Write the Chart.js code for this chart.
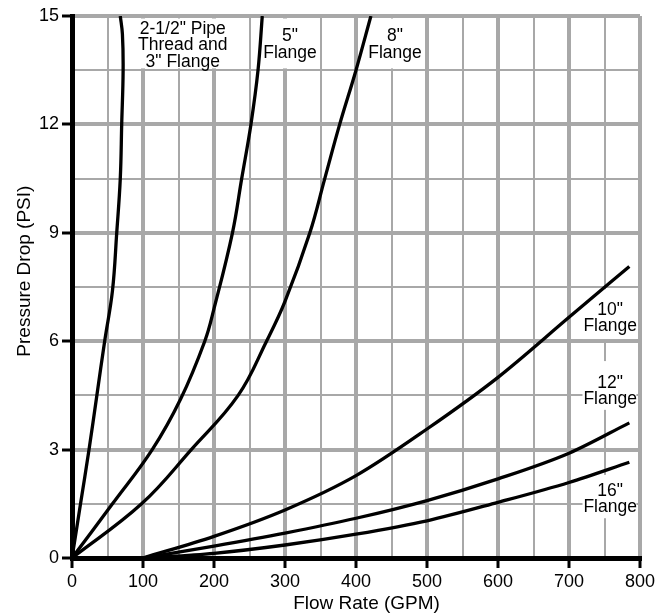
<!DOCTYPE html>
<html>
<head>
<meta charset="utf-8">
<script src="https://cdn.jsdelivr.net/npm/chart.js@4.4.1/dist/chart.umd.min.js"></script>
<style>
    html, body { margin: 0; padding: 0; background: #fff; }
    #wrap { width: 665px; height: 613px; }
</style>
</head>
<body>
<div id="wrap"><canvas id="flowChart"></canvas></div>
<script>
// Flow rate (GPM) vs pressure drop (PSI)
const pipeFlow = [0, 12, 24, 35, 46, 57, 63, 68, 70, 72, 71, 68];
const pipePsi = [0, 1.5, 3, 4.5, 6, 7.4, 9, 10.5, 12, 13.5, 14.5, 15];

const flange5Flow = [0, 57, 113, 153, 187, 200, 226, 239, 252, 262, 268];
const flange5Psi = [0, 1.5, 3, 4.4, 6, 6.9, 9, 10.5, 12, 13.5, 15];

const flange8Flow = [0, 98, 168, 234, 274, 300, 335, 356, 377, 400, 421];
const flange8Psi = [0, 1.5, 3, 4.5, 6, 7.1, 9, 10.5, 12, 13.5, 15];

// 10", 12" and 16" share the same flow points
const bigFlow = [100, 200, 300, 400, 500, 600, 700, 785];
const flange10Psi = [0, 0.6, 1.33, 2.28, 3.57, 5.0, 6.66, 8.07];
const flange12Psi = [0, 0.33, 0.69, 1.1, 1.59, 2.19, 2.9, 3.74];
const flange16Psi = [0, 0.13, 0.36, 0.66, 1.03, 1.54, 2.09, 2.65];

const xTicks = [0, 100, 200, 300, 400, 500, 600, 700, 800];
const yTicks = [0, 3, 6, 9, 12, 15];

// label text, centre of first line and white box [x0, x1, y0, y1] in data units
const curveLabels = [
    { lines: ['2-1/2" Pipe', 'Thread and', '3" Flange'], at: [156, 14.64], box: [80, 236, 13.55, 14.93] },
    { lines: ['5"', 'Flange'], at: [307, 14.43], box: [268, 345, 13.55, 14.93] },
    { lines: ['8"', 'Flange'], at: [455, 14.43], box: [410, 495, 13.55, 14.93] },
    { lines: ['10"', 'Flange'], at: [758, 6.86], box: [719, 795, 6.06, 7.44] },
    { lines: ['12"', 'Flange'], at: [758, 4.84], box: [719, 795, 4.1, 5.45] },
    { lines: ['16"', 'Flange'], at: [758, 1.85], box: [719, 795, 1.1, 2.3] }
];

const GRID = '#a8a8a8';
const FONT = '"Liberation Sans", Arial, Helvetica, sans-serif';

function toPoints(xs, ys) {
    return xs.map((v, i) => ({ x: v, y: ys[i] }));
}

function isMajor(v, list) {
    return list.some(t => Math.abs(t - v) < 1e-6);
}

// steep curves use a plain bezier, the flat ones a monotone spline
function curve(xs, ys, steep) {
    const ds = {
        data: toPoints(xs, ys),
        showLine: true,
        borderColor: '#000',
        borderWidth: 3.3,
        pointRadius: 0,
        fill: false
    };
    if (steep) ds.tension = 0.4;
    else ds.cubicInterpolationMode = 'monotone';
    return ds;
}

const labelPlugin = {
    id: 'curveLabels',
    beforeDatasetsDraw(chart) {
        const { ctx, scales: { x, y } } = chart;
        ctx.save();
        ctx.font = '17.5px ' + FONT;
        ctx.textAlign = 'center';
        ctx.textBaseline = 'middle';
        curveLabels.forEach(l => {
            const x0 = x.getPixelForValue(l.box[0]);
            const x1 = x.getPixelForValue(l.box[1]);
            const y0 = y.getPixelForValue(l.box[3]);
            const y1 = y.getPixelForValue(l.box[2]);
            ctx.fillStyle = '#fff';
            ctx.fillRect(x0, y0, x1 - x0, y1 - y0);
            ctx.fillStyle = '#000';
            const cx = x.getPixelForValue(l.at[0]);
            const cy = y.getPixelForValue(l.at[1]);
            l.lines.forEach((t, i) => ctx.fillText(t, cx, cy + i * 16.5));
        });
        ctx.restore();
    }
};

new Chart(document.getElementById('flowChart'), {
    type: 'scatter',
    data: {
        datasets: [
            curve(pipeFlow, pipePsi, true),
            curve(flange5Flow, flange5Psi, true),
            curve(flange8Flow, flange8Psi, true),
            curve(bigFlow, flange10Psi, false),
            curve(bigFlow, flange12Psi, false),
            curve(bigFlow, flange16Psi, false)
        ]
    },
    options: {
        responsive: true,
        maintainAspectRatio: false,
        animation: false,
        layout: { padding: { top: 16, right: 25, left: 0, bottom: 0 } },
        plugins: { legend: { display: false }, tooltip: { enabled: false } },
        scales: {
            x: {
                type: 'linear',
                min: 0,
                max: 800,
                ticks: {
                    stepSize: 50,
                    autoSkip: false,
                    maxRotation: 0,
                    padding: 3,
                    color: '#000',
                    font: { family: FONT, size: 18 },
                    callback: v => isMajor(v, xTicks) ? v : ''
                },
                grid: {
                    color: c => c.tick.value === 0 ? 'transparent' : GRID,
                    lineWidth: c => isMajor(c.tick.value, xTicks) ? 4 : 2,
                    tickColor: c => isMajor(c.tick.value, xTicks) ? '#000' : 'transparent',
                    tickLength: 10,
                    tickWidth: 3
                },
                border: { color: '#000', width: 5 },
                title: {
                    display: true,
                    text: '    Flow Rate (GPM)',
                    color: '#000',
                    font: { family: FONT, size: 19, lineHeight: 1 },
                    padding: { top: 0, bottom: 0 }
                },
                afterFit: s => { s.height = 55; }
            },
            y: {
                type: 'linear',
                min: 0,
                max: 15,
                ticks: {
                    stepSize: 1.5,
                    autoSkip: false,
                    padding: 3,
                    color: '#000',
                    font: { family: FONT, size: 18 },
                    callback: v => isMajor(v, yTicks) ? v : ''
                },
                grid: {
                    color: c => c.tick.value === 0 ? 'transparent' : GRID,
                    lineWidth: c => isMajor(c.tick.value, yTicks) ? 4 : 2,
                    tickColor: c => isMajor(c.tick.value, yTicks) ? '#000' : 'transparent',
                    tickLength: 10,
                    tickWidth: 3
                },
                border: { color: '#000', width: 5 },
                title: {
                    display: true,
                    text: '      Pressure Drop (PSI)',
                    color: '#000',
                    font: { family: FONT, size: 19, lineHeight: 1 },
                    padding: { top: 15, bottom: 0 }
                },
                afterFit: s => { s.width = 72; }
            }
        }
    },
    plugins: [labelPlugin]
});
</script>
</body>
</html>
